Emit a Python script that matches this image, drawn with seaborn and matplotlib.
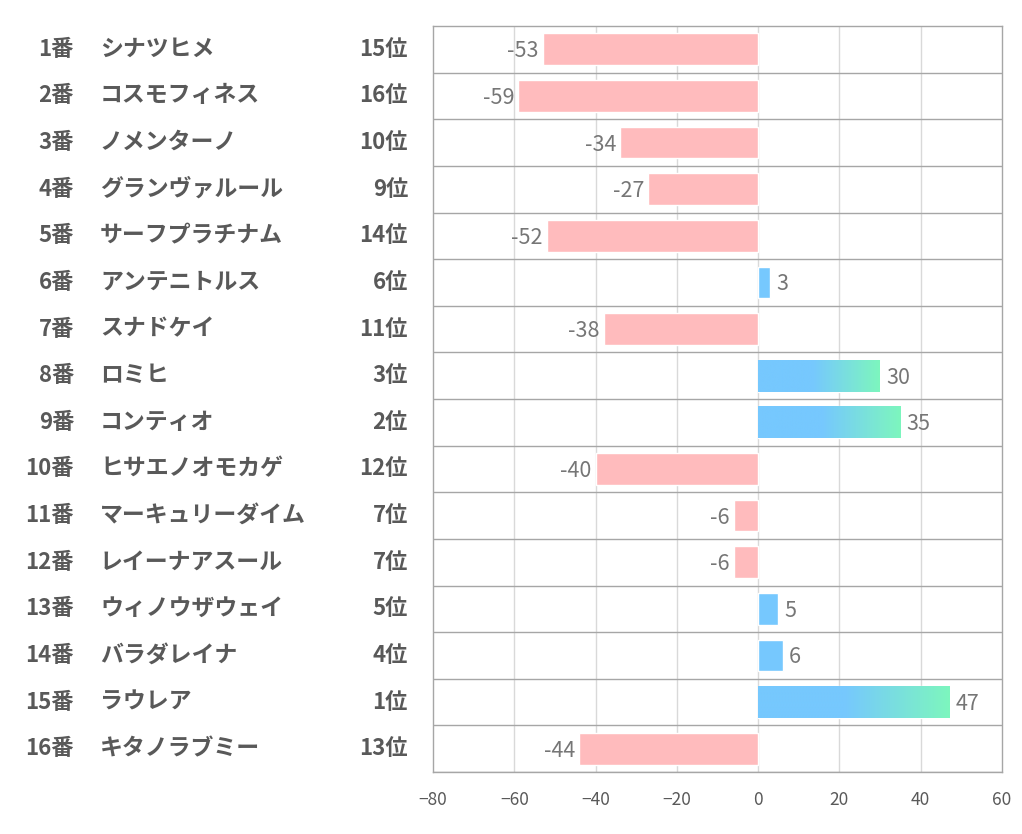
import numpy as np
import pandas as pd
import matplotlib
matplotlib.use('Agg')
import matplotlib.pyplot as plt
import matplotlib.transforms as mtransforms
from matplotlib.colors import LinearSegmentedColormap
import seaborn as sns

# Data
numbers = ['1番', '2番', '3番', '4番', '5番', '6番', '7番', '8番',
           '9番', '10番', '11番', '12番', '13番', '14番', '15番', '16番']
names = ['シナツヒメ', 'コスモフィネス', 'ノメンターノ', 'グランヴァルール', 'サーフプラチナム',
         'アンテニトルス', 'スナドケイ', 'ロミヒ', 'コンティオ', 'ヒサエノオモカゲ',
         'マーキュリーダイム', 'レイーナアスール', 'ウィノウザウェイ', 'バラダレイナ',
         'ラウレア', 'キタノラブミー']
ranks = ['15位', '16位', '10位', '9位', '14位', '6位', '11位', '3位',
         '2位', '12位', '7位', '7位', '5位', '4位', '1位', '13位']
values = [-53, -59, -34, -27, -52, 3, -38, 30, 35, -40, -6, -6, 5, 6, 47, -44]
gradient_ranks = ['1位', '2位', '3位']

sns.set_style('white')
plt.rcParams['font.family'] = ['Noto Sans CJK JP', 'DejaVu Sans']

PINK = '#FFBBBD'
BLUE = '#76C8FE'
GREEN = '#7DF6BE'
TEXT = '#595959'

df = pd.DataFrame({'label': numbers, 'value': values})
df['sign'] = np.where(df['value'] < 0, 'neg', 'pos')

fig = plt.figure(figsize=(10.22, 8.34), dpi=100)
ax = fig.add_axes([433 / 1022, 1 - 772 / 834, (1002 - 433) / 1022, (772 - 26) / 834])

sns.barplot(data=df, x='value', y='label', hue='sign', palette={'neg': PINK, 'pos': BLUE},
            orient='h', width=0.68, dodge=False, legend=False, saturation=1, ax=ax, zorder=3)

ax.set_xlim(-80, 60)
ax.set_ylim(15.5, -0.5)
ax.set_xticks(np.arange(-80, 61, 20))
ax.set_yticks([])
ax.set_xlabel('')
ax.set_ylabel('')
ax.tick_params(axis='x', length=0, pad=14, labelsize=12.5, labelcolor=TEXT)

# grid
for xv in np.arange(-60, 60, 20):
    ax.axvline(xv, color='#d9d9d9', lw=1, zorder=1)
for i in range(16):
    ax.axhline(i + 0.5, color='#a6a6a6', lw=1, zorder=2)
for sp in ax.spines.values():
    sp.set_color('#a6a6a6')
    sp.set_linewidth(1)

# gradient on top-ranked bars
cmap = LinearSegmentedColormap.from_list('bg', [(0, BLUE), (0.45, BLUE), (1, GREEN)])
grad = np.linspace(0, 1, 256).reshape(1, -1)
bar_by_y = {}
for p in ax.patches:
    if p.get_height() > 0:
        bar_by_y[round(p.get_y() + p.get_height() / 2)] = p
for i, (v, r) in enumerate(zip(values, ranks)):
    if r in gradient_ranks and i in bar_by_y:
        p = bar_by_y[i]
        y0 = p.get_y()
        h = p.get_height()
        im = ax.imshow(grad, cmap=cmap, aspect='auto', extent=(0, v, y0 + h, y0), zorder=4)
        im.set_clip_path(p)
ax.set_xlim(-80, 60)
ax.set_ylim(15.5, -0.5)

# value labels
for i, v in enumerate(values):
    if v < 0:
        tr = mtransforms.offset_copy(ax.transData, fig=fig, x=-4, y=-2, units='dots')
        ax.text(v, i, str(v), ha='right', va='center', fontsize=15.5, color='#767676', transform=tr, zorder=5)
    else:
        tr = mtransforms.offset_copy(ax.transData, fig=fig, x=6, y=-2, units='dots')
        ax.text(v, i, str(v), ha='left', va='center', fontsize=15.5, color='#767676', transform=tr, zorder=5)

# left-side labels
blend = mtransforms.blended_transform_factory(fig.transFigure, ax.transData)
for i in range(16):
    ax.text(74 / 1022, i, numbers[i], ha='right', va='center', fontsize=16, fontweight='bold',
            color=TEXT, transform=blend, clip_on=False)
    ax.text(100 / 1022, i, names[i], ha='left', va='center', fontsize=16.5, fontweight='bold',
            color=TEXT, transform=blend, clip_on=False)
    ax.text(408 / 1022, i, ranks[i], ha='right', va='center', fontsize=16, fontweight='bold',
            color=TEXT, transform=blend, clip_on=False)

fig.savefig('out.png', dpi=100, facecolor='white')
